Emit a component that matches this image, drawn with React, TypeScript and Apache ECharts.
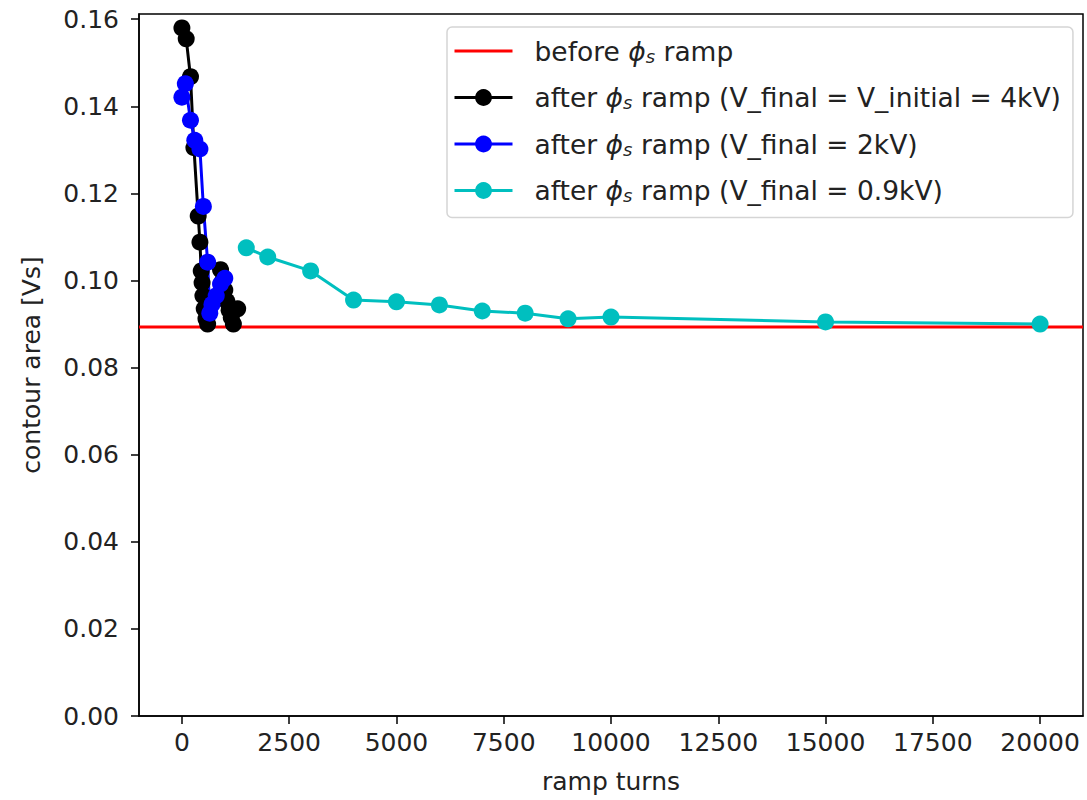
import React, { useEffect, useRef } from "react";
import * as echarts from "echarts";

const xTicks = [0, 2500, 5000, 7500, 10000, 12500, 15000, 17500, 20000];
const yTicks = [0, 0.02, 0.04, 0.06, 0.08, 0.1, 0.12, 0.14, 0.16];

const beforeLevel = 0.0893;
const beforeX = [-1000, 21000];

const blackX = [0, 100, 200, 280, 380, 420, 450, 470, 490, 520, 560, 600, 900, 960, 1000, 1050, 1100, 1150, 1200, 1300];
const blackY = [0.158, 0.1555, 0.1468, 0.1305, 0.1148, 0.1088, 0.1022, 0.0995, 0.0965, 0.0935, 0.0912, 0.0900, 0.1025, 0.1002, 0.0978, 0.0952, 0.0932, 0.0915, 0.0900, 0.0935];

const blueX = [0, 80, 200, 300, 420, 500, 600, 650, 700, 800, 900, 1000];
const blueY = [0.1421, 0.1452, 0.1368, 0.1322, 0.1302, 0.117, 0.1042, 0.0925, 0.0945, 0.0965, 0.0992, 0.1005];

const cyanX = [1500, 2000, 3000, 4000, 5000, 6000, 7000, 8000, 9000, 10000, 15000, 20000];
const cyanY = [0.1075, 0.1054, 0.1022, 0.0955, 0.0951, 0.0944, 0.0930, 0.0925, 0.0912, 0.0916, 0.0905, 0.0900];

const names = [
  "before phi ramp",
  "after phi ramp (V_final = V_initial = 4kV)",
  "after phi ramp (V_final = 2kV)",
  "after phi ramp (V_final = 0.9kV)",
];
const richNames: Record<string, string> = {
  [names[0]]: "before {phi|ϕ}{sub|s} ramp",
  [names[1]]: "after {phi|ϕ}{sub|s} ramp (V_final = V_initial = 4kV)",
  [names[2]]: "after {phi|ϕ}{sub|s} ramp (V_final = 2kV)",
  [names[3]]: "after {phi|ϕ}{sub|s} ramp (V_final = 0.9kV)",
};

const zip = (xs: number[], ys: number[]) => xs.map((x, i) => [x, ys[i]]);

export default function App() {
  const ref = useRef<HTMLDivElement>(null);
  useEffect(() => {
    if (!ref.current) return;
    const chart = echarts.init(ref.current, undefined, { renderer: "svg" });
    const font = "DejaVu Sans";
    const fs = 25;
    const lfs = 26.5;
    const mk = (name: string, data: number[][], color: string) => ({
      name,
      type: "line",
      data,
      symbol: "circle",
      symbolSize: 17,
      showSymbol: true,
      lineStyle: { color, width: 3 },
      itemStyle: { color },
      z: 3,
    });
    chart.setOption({
      animation: false,
      backgroundColor: "#fff",
      grid: {
        left: 139,
        right: 4,
        top: 14,
        bottom: 84,
        show: true,
        borderColor: "#000",
        borderWidth: 1.5,
        backgroundColor: "transparent",
      },
      xAxis: {
        type: "value",
        min: -1000,
        max: 21000,
        name: "ramp turns",
        nameLocation: "middle",
        nameGap: 53,
        nameTextStyle: { fontFamily: font, fontSize: fs, color: "#222" },
        axisLine: { show: true, onZero: false, lineStyle: { color: "#000", width: 1.5 } },
        axisTick: { show: true, inside: false, length: 8, customValues: xTicks, lineStyle: { color: "#000", width: 1.5 } },
        axisLabel: {
          customValues: xTicks,
          formatter: (v: number) => String(v),
          fontFamily: font,
          fontSize: fs,
          color: "#222",
          margin: 14,
        },
        splitLine: { show: false },
      },
      yAxis: {
        type: "value",
        min: 0,
        max: 0.1612,
        name: "contour area [Vs]",
        nameLocation: "middle",
        nameGap: 95,
        nameTextStyle: { fontFamily: font, fontSize: fs, color: "#222" },
        axisLine: { show: true, onZero: false, lineStyle: { color: "#000", width: 1.5 } },
        axisTick: { show: true, inside: false, length: 8, customValues: yTicks, lineStyle: { color: "#000", width: 1.5 } },
        axisLabel: {
          customValues: yTicks,
          formatter: (v: number) => v.toFixed(2),
          fontFamily: font,
          fontSize: fs,
          color: "#222",
          margin: 20,
        },
        splitLine: { show: false },
      },
      legend: {
        data: [
          { name: names[0], itemStyle: { opacity: 0 } },
          { name: names[1] },
          { name: names[2] },
          { name: names[3] },
        ],
        orient: "vertical",
        left: 447,
        top: 27,
        padding: [9, 12, 12, 6],
        itemWidth: 58,
        itemHeight: 21,
        itemGap: 16.5,
        lineStyle: { width: 3 },
        backgroundColor: "#fff",
        borderColor: "#d5d5d5",
        borderWidth: 1.5,
        borderRadius: 5,
        formatter: (n: string) => richNames[n] || n,
        textStyle: {
          fontFamily: font,
          fontSize: lfs,
          lineHeight: 30,
          color: "#222",
          padding: [0, 0, 0, 17],
          rich: {
            phi: { fontFamily: font, fontSize: lfs, lineHeight: 30, fontStyle: "italic", color: "#222" },
            sub: { fontFamily: font, fontSize: 18, lineHeight: 30, fontStyle: "italic", color: "#222", padding: [10, 0, 0, 0] },
          },
        },
      },
      series: [
        {
          name: names[0],
          type: "line",
          data: beforeX.map((x) => [x, beforeLevel]),
          symbol: "none",
          showSymbol: false,
          lineStyle: { color: "#ff0000", width: 3 },
          itemStyle: { color: "#ff0000" },
          z: 2,
        },
        mk(names[1], zip(blackX, blackY), "#000000"),
        mk(names[2], zip(blueX, blueY), "#0000ff"),
        mk(names[3], zip(cyanX, cyanY), "#00bfbf"),
      ],
    });
    return () => chart.dispose();
  }, []);
  return <div ref={ref} style={{ width: 1087, height: 800, position: "absolute", left: 0, top: 0 }} />;
}
